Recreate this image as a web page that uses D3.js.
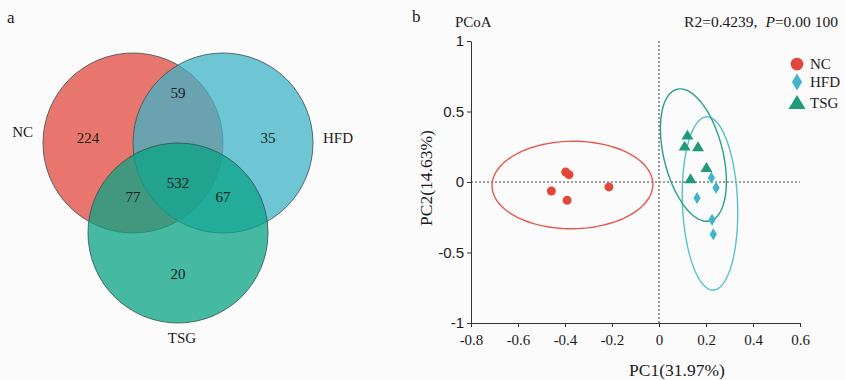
<!DOCTYPE html>
<html>
<head>
<meta charset="utf-8">
<script src="https://cdn.jsdelivr.net/npm/d3@7"></script>
<style>
  body { margin: 0; background: #fbfbfb; }
  svg { display: block; }
  .serif { font-family: "Liberation Serif", "Times New Roman", serif; fill: #1a1a1a; }
  .sans { font-family: "Liberation Sans", Arial, sans-serif; fill: #1a1a1a; }
</style>
</head>
<body>
<div id="chart"></div>
<script>
// ---- data ----
const groups = ["NC", "HFD", "TSG"];

// venn counts (unique / shared OTUs)
const vennOnly = [224, 35, 20];          // NC, HFD, TSG
const vennPairs = [59, 77, 67];          // NC&HFD, NC&TSG, HFD&TSG
const vennAll = 532;

// PCoA sample scores
const ncPC1 = [-0.397, -0.383, -0.458, -0.391, -0.213];
const ncPC2 = [0.071, 0.052, -0.064, -0.130, -0.035];
const hfdPC1 = [0.223, 0.243, 0.162, 0.226, 0.231];
const hfdPC2 = [0.031, -0.040, -0.113, -0.267, -0.371];
const tsgPC1 = [0.121, 0.109, 0.166, 0.202, 0.134];
const tsgPC2 = [0.331, 0.253, 0.248, 0.102, 0.021];

const xTicks = [-0.8, -0.6, -0.4, -0.2, 0, 0.2, 0.4, 0.6];
const yTicks = [-1, -0.5, 0, 0.5, 1];

const W = 845, H = 380;
const svg = d3.select("#chart").append("svg").attr("width", W).attr("height", H);
svg.append("rect").attr("width", W).attr("height", H).attr("fill", "#fbfbfb");

// ================= panel a : venn =================
const vennFill = ["rgba(227,73,63,0.75)", "rgba(63,179,197,0.75)", "rgba(9,163,133,0.75)"];
const vr = 90, vcx = 178, vcy = 143, vd = 90;
const vennCircles = [
  { name: "NC", x: vcx - vd / 2, y: vcy },
  { name: "HFD", x: vcx + vd / 2, y: vcy },
  { name: "TSG", x: vcx, y: vcy + vd }
];
const [cN, cH, cT] = vennCircles;

svg.append("text").attr("class", "serif").attr("x", 7).attr("y", 23)
  .attr("font-size", 17).text("a");

const gv = svg.append("g");
gv.selectAll("circle").data(vennCircles).join("circle")
  .attr("cx", d => d.x).attr("cy", d => d.y).attr("r", vr)
  .attr("fill", (d, i) => vennFill[i])
  .attr("stroke", "#34504f").attr("stroke-opacity", 0.8).attr("stroke-width", 1);

// where each region's number sits, relative to the circles
const regionCounts = [
  { v: vennOnly[0], x: cN.x - 0.5 * vr, y: cN.y - 0.06 * vr },
  { v: vennOnly[1], x: cH.x + 0.5 * vr, y: cH.y - 0.06 * vr },
  { v: vennOnly[2], x: cT.x, y: cT.y + 0.45 * vr },
  { v: vennPairs[0], x: (cN.x + cH.x) / 2, y: cN.y - 0.56 * vr },
  { v: vennPairs[1], x: cN.x, y: cN.y + 0.6 * vr },
  { v: vennPairs[2], x: cH.x, y: cH.y + 0.6 * vr },
  { v: vennAll, x: (cN.x + cH.x + cT.x) / 3, y: (cN.y + cH.y + cT.y) / 3 + 0.11 * vr }
];
gv.selectAll("text.count").data(regionCounts).join("text")
  .attr("class", "serif count")
  .attr("x", d => d.x).attr("y", d => d.y)
  .attr("dy", "0.35em").attr("text-anchor", "middle").attr("font-size", 15)
  .text(d => d.v);

// set names
gv.append("text").attr("class", "serif").attr("font-size", 15)
  .attr("x", cN.x - vr - 10).attr("y", cN.y - 6)
  .attr("text-anchor", "end").text(groups[0]);
gv.append("text").attr("class", "serif").attr("font-size", 15)
  .attr("x", cH.x + vr + 10).attr("y", cH.y)
  .attr("text-anchor", "start").text(groups[1]);
gv.append("text").attr("class", "serif").attr("font-size", 15)
  .attr("x", cT.x + 4).attr("y", cT.y + vr + 20)
  .attr("text-anchor", "middle").text(groups[2]);

// ================= panel b : PCoA =================
const x = d3.scaleLinear().domain([-0.8, 0.6]).range([471, 800]);
const y = d3.scaleLinear().domain([-1, 1]).range([323, 41]);

const ptColor = ["#e3473a", "#3eb3c9", "#1f9a7b"];
const ellColor = ["#e6584c", "#55c2cf", "#27a087"];

svg.append("text").attr("class", "serif").attr("x", 412).attr("y", 22)
  .attr("font-size", 17).text("b");
svg.append("text").attr("class", "serif").attr("x", 455).attr("y", 27)
  .attr("font-size", 15).text("PCoA");
svg.append("text").attr("class", "serif").attr("x", 838).attr("y", 27)
  .attr("font-size", 15.5).attr("text-anchor", "end")
  .call(t => {
    t.append("tspan").text("R2=0.4239,");
    t.append("tspan").attr("dx", 8).attr("font-style", "italic").text("P");
    t.append("tspan").text("=0.00");
    t.append("tspan").attr("dx", 4).text("100");
  });

// reference lines
svg.append("line")
  .attr("x1", x(0)).attr("x2", x(0)).attr("y1", y(1)).attr("y2", y(-1))
  .attr("stroke", "#808080").attr("stroke-width", 1.6).attr("stroke-dasharray", "2,2");
svg.append("line")
  .attr("x1", x(-0.8)).attr("x2", x(0.6)).attr("y1", y(0)).attr("y2", y(0))
  .attr("stroke", "#808080").attr("stroke-width", 1.6).attr("stroke-dasharray", "2,2");

// axes
const yAxis = svg.append("g").attr("transform", `translate(${x(-0.8)},0)`)
  .call(d3.axisLeft(y).tickValues(yTicks).tickSize(4).tickSizeOuter(0).tickFormat(d => String(d)));
yAxis.selectAll("text").attr("class", "sans").attr("font-size", 15).attr("x", -7);
const xAxis = svg.append("g").attr("transform", `translate(0,${y(-1)})`)
  .call(d3.axisBottom(x).tickValues(xTicks).tickSize(4).tickSizeOuter(0).tickFormat(d => String(d)));
xAxis.selectAll("text").attr("class", "serif").attr("font-size", 15).attr("y", 11);
svg.selectAll(".domain, .tick line").attr("stroke", "#333");
svg.selectAll(".tick text").attr("fill", "#1a1a1a");

svg.append("text").attr("class", "serif").attr("font-size", 17.5)
  .attr("x", 677).attr("y", 376).attr("text-anchor", "middle").text("PC1(31.97%)");
svg.append("text").attr("class", "serif").attr("font-size", 17.5)
  .attr("transform", `translate(432,178) rotate(-90)`).attr("text-anchor", "middle")
  .text("PC2(14.63%)");

// 95% normal confidence ellipses (as stat_ellipse type="norm")
function ellipsePts(xs, ys) {
  const n = xs.length;
  const mx = d3.mean(xs), my = d3.mean(ys);
  let a = 0, b = 0, c = 0;
  for (let i = 0; i < n; i++) {
    a += (xs[i] - mx) ** 2; b += (xs[i] - mx) * (ys[i] - my); c += (ys[i] - my) ** 2;
  }
  a /= n - 1; b /= n - 1; c /= n - 1;
  const df2 = n - 1;
  const fq = df2 / 2 * (Math.pow(0.05, -2 / df2) - 1);   // qf(0.95, 2, n-1)
  const rad = Math.sqrt(2 * fq);
  const l11 = Math.sqrt(a), l21 = b / l11, l22 = Math.sqrt(c - l21 * l21);
  return d3.range(0, 101).map(k => {
    const t = k / 100 * 2 * Math.PI;
    return [mx + rad * l11 * Math.cos(t), my + rad * (l21 * Math.cos(t) + l22 * Math.sin(t))];
  });
}

const series = [
  { xs: ncPC1, ys: ncPC2 },
  { xs: hfdPC1, ys: hfdPC2 },
  { xs: tsgPC1, ys: tsgPC2 }
];
const line = d3.line().x(d => x(d[0])).y(d => y(d[1]));
series.forEach((s, i) => {
  svg.append("path").datum(ellipsePts(s.xs, s.ys)).attr("d", line)
    .attr("fill", "none").attr("stroke", ellColor[i]).attr("stroke-width", 1.4);
});

// marker shapes
function marker(g, i, size) {
  if (i === 0) {
    g.append("circle").attr("r", size * 0.75).attr("fill", ptColor[0]);
  } else if (i === 1) {
    const w = size * 0.6, h = size;
    g.append("path").attr("d", `M0,${-h}L${w},0L0,${h}L${-w},0Z`).attr("fill", ptColor[1]);
  } else {
    const w = size * 1.0, h = size * 0.95;
    g.append("path").attr("d", `M0,${-h}L${w},${h * 0.75}L${-w},${h * 0.75}Z`).attr("fill", ptColor[2]);
  }
}

series.forEach((s, i) => {
  s.xs.forEach((v, k) => {
    const g = svg.append("g").attr("transform", `translate(${x(v)},${y(s.ys[k])})`);
    marker(g, i, 6);
  });
});

// legend (pulled a little left so the names fit inside the picture)
const leg = svg.append("g").attr("transform", "translate(797,64)");
groups.forEach((name, i) => {
  const row = leg.append("g").attr("transform", `translate(0,${[0, 18, 39][i]})`);
  marker(row, i, 8.5);
  row.append("text").attr("class", "serif").attr("font-size", 15)
    .attr("x", 13).attr("dy", "0.35em").text(name);
});
</script>
</body>
</html>
